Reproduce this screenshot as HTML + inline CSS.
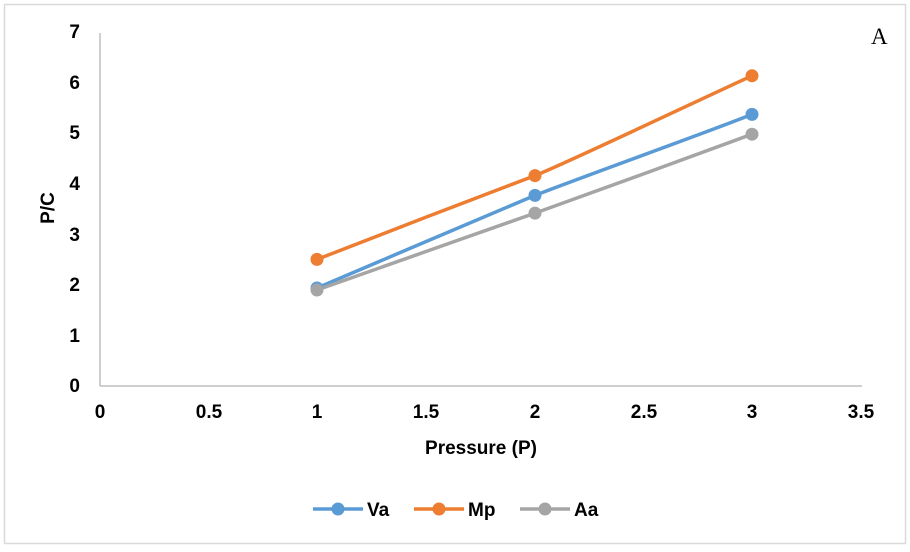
<!DOCTYPE html>
<html><head><style>body{margin:0;background:#fff}</style></head><body>
<svg width="910" height="547" viewBox="0 0 910 547" xmlns="http://www.w3.org/2000/svg" font-family="Liberation Sans, Arial, sans-serif">
<rect x="0" y="0" width="910" height="547" fill="#fff"/>
<rect x="4.5" y="4.5" width="901" height="539" fill="none" stroke="#d9d9d9" stroke-width="1.5"/>
<line x1="100" y1="33" x2="100" y2="386" stroke="#bfbfbf" stroke-width="1.5"/>
<line x1="100" y1="386" x2="862" y2="386" stroke="#bfbfbf" stroke-width="1.5"/>
<g font-size="19" font-weight="bold" fill="#000" text-anchor="end">
<text x="80" y="392">0</text><text x="80" y="342">1</text><text x="80" y="291">2</text><text x="80" y="241">3</text>
<text x="80" y="190">4</text><text x="80" y="139">5</text><text x="80" y="89">6</text><text x="80" y="38">7</text>
</g>
<g font-size="19" font-weight="bold" fill="#000" text-anchor="middle">
<text x="100" y="418">0</text><text x="209" y="418">0.5</text><text x="317" y="418">1</text><text x="426" y="418">1.5</text>
<text x="535" y="418">2</text><text x="644" y="418">2.5</text><text x="752" y="418">3</text><text x="861" y="418">3.5</text>
<text x="481" y="454">Pressure (P)</text>
<text transform="translate(54,208) rotate(-90)">P/C</text>
</g>
<text x="871" y="44" font-family="Liberation Serif, serif" font-size="23">A</text>
<g fill="none" stroke-width="3.5" stroke-linecap="round">
<path d="M317,288 C353,272 499,211 535,195.4 C571,181 716,129 752,114.4" stroke="#5b9bd5"/>
<path d="M317,259.4 C353,245 499,189 535,175.6 C571,161 716,92 752,75.8" stroke="#ed7d31"/>
<path d="M317,290 C353,277 499,226 535,213.1 C571,200 716,148 752,134.2" stroke="#a5a5a5"/>
</g>
<g fill="#5b9bd5"><circle cx="317" cy="288" r="6.5"/><circle cx="535" cy="195.4" r="6.5"/><circle cx="752" cy="114.4" r="6.5"/></g>
<g fill="#ed7d31"><circle cx="317" cy="259.4" r="6.5"/><circle cx="535" cy="175.6" r="6.5"/><circle cx="752" cy="75.8" r="6.5"/></g>
<g fill="#a5a5a5"><circle cx="317" cy="290" r="6.5"/><circle cx="535" cy="213.1" r="6.5"/><circle cx="752" cy="134.2" r="6.5"/></g>
<g stroke-width="3.5">
<line x1="313" y1="509" x2="363" y2="509" stroke="#5b9bd5"/><circle cx="338" cy="509" r="6.5" fill="#5b9bd5"/>
<line x1="414" y1="509" x2="464" y2="509" stroke="#ed7d31"/><circle cx="439" cy="509" r="6.5" fill="#ed7d31"/>
<line x1="520" y1="509" x2="570" y2="509" stroke="#a5a5a5"/><circle cx="545" cy="509" r="6.5" fill="#a5a5a5"/>
</g>
<g font-size="19" font-weight="bold" fill="#000">
<text x="367" y="516">Va</text><text x="468" y="516">Mp</text><text x="574" y="516">Aa</text>
</g>
</svg>
</body></html>
